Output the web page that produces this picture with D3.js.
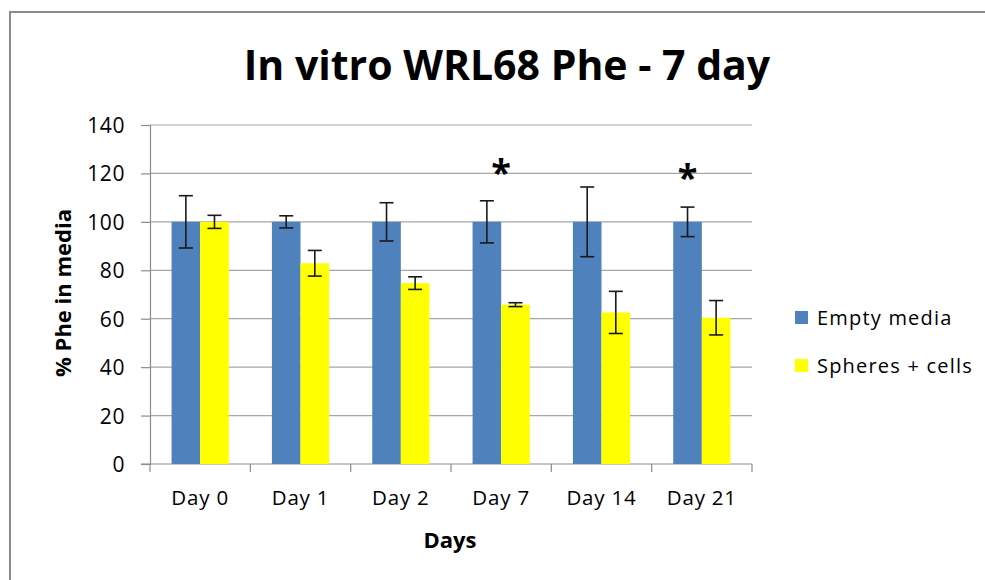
<!DOCTYPE html>
<html>
<head>
<meta charset="utf-8">
<script src="https://cdn.jsdelivr.net/npm/d3@7"></script>
<style>
  body { margin: 0; background: #fff; }
  text { font-family: "Open Sans", sans-serif; fill: #000; }
</style>
</head>
<body>
<div class="chart"></div>
<script>
// chart data
const days = ["Day 0", "Day 1", "Day 2", "Day 7", "Day 14", "Day 21"];
const seriesNames = ["Empty media", "Spheres + cells"];
const emptyMedia = [100, 100, 100, 100, 100, 100];
const emptyMediaErr = [10.8, 2.5, 7.9, 8.7, 14.4, 6.1];
const spheresCells = [100, 82.9, 74.7, 65.8, 62.6, 60.4];
const spheresCellsErr = [2.7, 5.3, 2.6, 0.8, 8.7, 7.1];
const yTicks = [0, 20, 40, 60, 80, 100, 120, 140];
// significance marks: day, series the star sits over (null = group centre), value level
const starDays = ["Day 7", "Day 21"];
const starSeries = [null, "Empty media"];
const starLevel = [124.5, 122.5];

const colors = ["#4f81bd", "#ffff00"];

const width = 985, height = 580;
const svg = d3.select(".chart")
    .append("svg")
    .attr("width", width)
    .attr("height", height);

// outer frame (runs off the right and bottom of the picture)
svg.append("rect")
    .attr("x", 10)
    .attr("y", 12)
    .attr("width", 1000)
    .attr("height", 600)
    .attr("fill", "none")
    .attr("stroke", "#8c8c8c")
    .attr("stroke-width", 2);

const plotLeft = 150, plotRight = 752, plotTop = 125, plotBottom = 464;

const xScale = d3.scaleBand()
    .domain(days)
    .range([plotLeft, plotRight]);
const bw = xScale.bandwidth();
const xInner = d3.scaleBand()
    .domain(seriesNames)
    .range([bw * 0.215, bw * 0.785]);
const yScale = d3.scaleLinear()
    .domain([0, 140])
    .range([plotBottom, plotTop]);

// gridlines
svg.append("g")
    .selectAll("line")
    .data(yTicks.filter(d => d > 0))
    .join("line")
    .attr("x1", plotLeft)
    .attr("x2", plotRight)
    .attr("y1", d => yScale(d))
    .attr("y2", d => yScale(d))
    .attr("stroke", "#a6a6a6")
    .attr("stroke-width", 1.2);

// y axis
const yAxis = svg.append("g")
    .attr("transform", `translate(${plotLeft},0)`)
    .call(d3.axisLeft(yScale).tickValues(yTicks).tickSize(9).tickPadding(16));
yAxis.select(".domain").attr("stroke", "#8c8c8c").attr("stroke-width", 1.2);
yAxis.selectAll(".tick line").attr("stroke", "#8c8c8c").attr("stroke-width", 1.2);
yAxis.selectAll(".tick text")
    .style("font-family", "'Open Sans', sans-serif")
    .style("font-size", "21px")
    .style("letter-spacing", "0.6px")
    .attr("dy", "0.36em");

// x axis: ticks sit on the category boundaries
const xAxisG = svg.append("g")
    .attr("transform", `translate(0,${plotBottom})`);
xAxisG.append("line")
    .attr("x1", plotLeft - 9)
    .attr("x2", plotRight)
    .attr("stroke", "#8c8c8c")
    .attr("stroke-width", 1.2);
const bounds = days.map(d => xScale(d)).concat([xScale(days[days.length - 1]) + bw]);
xAxisG.selectAll(".bound")
    .data(bounds)
    .join("line")
    .attr("class", "bound")
    .attr("x1", d => d)
    .attr("x2", d => d)
    .attr("y1", 0)
    .attr("y2", 8)
    .attr("stroke", "#8c8c8c")
    .attr("stroke-width", 1.2);
xAxisG.selectAll(".xlab")
    .data(days)
    .join("text")
    .attr("class", "xlab")
    .attr("x", d => xScale(d) + bw / 2)
    .attr("y", 41)
    .attr("text-anchor", "middle")
    .style("font-size", "20.5px")
    .style("letter-spacing", "0.8px")
    .text(d => d);

// bars
const rows = days.map((d, i) => ({
    day: d,
    vals: [
        { name: seriesNames[0], v: emptyMedia[i], e: emptyMediaErr[i] },
        { name: seriesNames[1], v: spheresCells[i], e: spheresCellsErr[i] }
    ]
}));

const groups = svg.append("g")
    .selectAll("g")
    .data(rows)
    .join("g")
    .attr("transform", d => `translate(${xScale(d.day)},0)`);

groups.selectAll("rect")
    .data(d => d.vals)
    .join("rect")
    .attr("x", d => xInner(d.name))
    .attr("y", d => yScale(d.v))
    .attr("width", xInner.bandwidth())
    .attr("height", d => yScale(0) - yScale(d.v))
    .attr("fill", (d, i) => colors[i]);

// error bars
const capW = 7;
const err = groups.selectAll(".err")
    .data(d => d.vals)
    .join("g")
    .attr("class", "err")
    .attr("stroke", "#1a1a1a")
    .attr("stroke-width", 1.6);
err.append("line")
    .attr("x1", d => xInner(d.name) + xInner.bandwidth() / 2)
    .attr("x2", d => xInner(d.name) + xInner.bandwidth() / 2)
    .attr("y1", d => yScale(d.v + d.e))
    .attr("y2", d => yScale(d.v - d.e));
err.append("line")
    .attr("x1", d => xInner(d.name) + xInner.bandwidth() / 2 - capW)
    .attr("x2", d => xInner(d.name) + xInner.bandwidth() / 2 + capW)
    .attr("y1", d => yScale(d.v + d.e))
    .attr("y2", d => yScale(d.v + d.e));
err.append("line")
    .attr("x1", d => xInner(d.name) + xInner.bandwidth() / 2 - capW)
    .attr("x2", d => xInner(d.name) + xInner.bandwidth() / 2 + capW)
    .attr("y1", d => yScale(d.v - d.e))
    .attr("y2", d => yScale(d.v - d.e));

// asterisks
svg.append("g")
    .selectAll("text")
    .data(starDays)
    .join("text")
    .attr("x", (d, i) => starSeries[i] === null
        ? xScale(d) + bw / 2
        : xScale(d) + xInner(starSeries[i]) + xInner.bandwidth() / 2)
    .attr("y", (d, i) => yScale(starLevel[i]))
    .attr("text-anchor", "middle")
    .attr("dy", "0.62em")
    .style("font-size", "36px")
    .style("font-weight", "bold")
    .text("*");

// title
svg.append("text")
    .attr("x", 507)
    .attr("y", 80)
    .attr("text-anchor", "middle")
    .style("font-size", "41px")
    .style("font-weight", "bold")
    .text("In vitro WRL68 Phe - 7 day");

// axis titles
svg.append("text")
    .attr("x", 450)
    .attr("y", 548)
    .attr("text-anchor", "middle")
    .style("font-size", "22px")
    .style("font-weight", "bold")
    .text("Days");

svg.append("text")
    .attr("transform", "rotate(-90)")
    .attr("x", -293)
    .attr("y", 71)
    .attr("text-anchor", "middle")
    .style("font-size", "22px")
    .style("font-weight", "bold")
    .text("% Phe in media");

// legend
const legend = svg.append("g")
    .attr("transform", "translate(795,311)");
legend.selectAll("rect")
    .data(seriesNames)
    .join("rect")
    .attr("x", 0)
    .attr("y", (d, i) => i * 48)
    .attr("width", 13)
    .attr("height", 13)
    .attr("fill", (d, i) => colors[i]);
legend.selectAll("text")
    .data(seriesNames)
    .join("text")
    .attr("x", 22)
    .attr("y", (d, i) => i * 48 + 7)
    .attr("dy", "0.36em")
    .style("font-size", "20px")
    .style("letter-spacing", "1.2px")
    .text(d => d);
</script>
</body>
</html>
